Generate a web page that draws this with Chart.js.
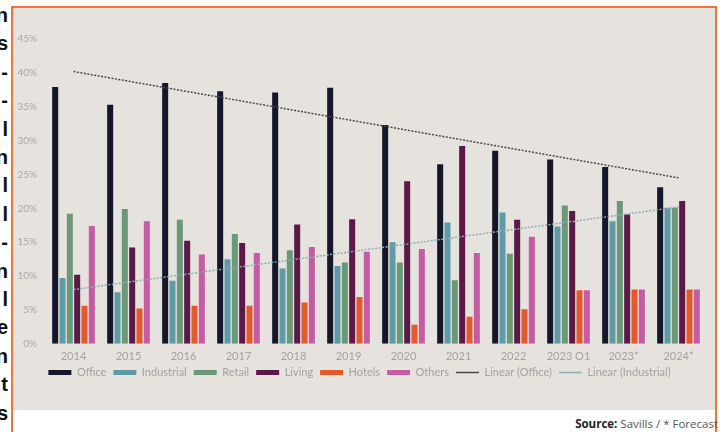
<!DOCTYPE html>
<html>
<head>
<meta charset="utf-8">
<script src="https://cdn.jsdelivr.net/npm/chart.js@4.4.1/dist/chart.umd.min.js"></script>
<style>
  html, body { margin: 0; padding: 0; background: #fff; width: 722px; height: 432px; overflow: hidden; font-family: Lato, sans-serif; }
  #edge { position: absolute; left: 0; top: 0; width: 10px; height: 432px; overflow: hidden; }
  #edge span { position: absolute; right: 2px; font: bold 20px "Liberation Sans", sans-serif; color: #111; line-height: 20px; }
  #frame { position: absolute; left: 11px; top: 6px; width: 702px; height: 430px; border: 2px solid #f0753d; border-bottom: none; }
  #panel { position: absolute; left: 0; top: 0; width: 702px; height: 402px; background: #e6e2de; }
  #source { position: absolute; right: 4px; top: 416px; font: 11.5px "Open Sans", sans-serif; color: #555; white-space: nowrap; }
  #source b { color: #222; }
</style>
</head>
<body>
<div id="edge"></div>
<div id="frame">
  <div id="panel"><canvas id="chart" width="702" height="402"></canvas></div>
</div>
<div id="source"><b>Source:</b> Savills / * Forecast</div>
<script>
// Share of investment volume by sector, per year
const categories = ['2014', '2015', '2016', '2017', '2018', '2019', '2020', '2021', '2022', '2023 Q1', '2023*', '2024*'];
const office     = [37.9, 35.3, 38.5, 37.3, 37.1, 37.8, 32.3, 26.5, 28.5, 27.2, 26.1, 23.1];
const industrial = [9.7, 7.6, 9.3, 12.5, 11.1, 11.5, 15.0, 17.9, 19.4, 17.3, 18.1, 20.1];
const retail     = [19.2, 19.9, 18.3, 16.2, 13.8, 12.0, 12.0, 9.4, 13.3, 20.4, 21.1, 20.1];
const living     = [10.2, 14.2, 15.2, 14.9, 17.6, 18.4, 24.0, 29.2, 18.3, 19.6, 19.1, 21.1];
const hotels     = [5.6, 5.2, 5.6, 5.6, 6.1, 6.9, 2.8, 4.0, 5.1, 7.9, 8.0, 8.0];
const others     = [17.4, 18.1, 13.2, 13.4, 14.3, 13.6, 14.0, 13.4, 15.8, 7.9, 8.0, 8.0];
const officeTrend     = [40.2, null, null, null, null, null, null, null, null, null, null, 24.5];
const industrialTrend = [8.0, null, null, null, null, null, null, null, null, null, null, 20.2];
const yTicks = [0, 5, 10, 15, 20, 25, 30, 35, 40, 45];

// cut-off text from the page beside the chart
const edgeChars = ['n', 's', '-', '-', 'l', 'n', 'l', 'l', '-', 'n', 'l', 'e', 'n', 't', 's'];
const edge = document.getElementById('edge');
edgeChars.forEach((c, i) => {
  const s = document.createElement('span');
  s.textContent = c;
  s.style.top = (5 + i * 28.4) + 'px';
  edge.appendChild(s);
});

function bar(label, data, color) {
  return { type: 'bar', label, data, backgroundColor: color, borderWidth: 0, order: 2,
           barPercentage: 0.82, categoryPercentage: 0.8 };
}
function trend(label, data, color) {
  return { type: 'line', label, data, borderColor: color, backgroundColor: color, borderWidth: 1.5,
           borderDash: [2, 1.5], pointRadius: 0, spanGaps: true, order: 1, tension: 0 };
}

const ctx = document.getElementById('chart').getContext('2d');
new Chart(ctx, {
  data: {
    labels: categories,
    datasets: [
      bar('Office', office, '#15162a'),
      bar('Industrial', industrial, '#5e9ba6'),
      bar('Retail', retail, '#6b9879'),
      bar('Living', living, '#5c1847'),
      bar('Hotels', hotels, '#e2592b'),
      bar('Others', others, '#c45ba3'),
      trend('Linear (Office)', officeTrend, '#4a4a4a'),
      trend('Linear (Industrial)', industrialTrend, '#8eaeb6')
    ]
  },
  options: {
    responsive: false,
    animation: false,
    layout: { padding: { top: 31, right: 9, bottom: 22, left: 0 } },
    scales: {
      x: {
        afterFit: (s) => { s.height = s.height - 9; },
        grid: { display: false, drawTicks: false },
        border: { display: false },
        ticks: { color: '#a3a3a3', font: { family: 'Lato', size: 11 }, padding: 6, maxRotation: 0 }
      },
      y: {
        min: 0, max: 45,
        afterFit: (s) => { s.width = 33; },
        afterBuildTicks: (s) => { s.ticks = yTicks.map(v => ({ value: v })); },
        grid: { display: false, drawTicks: false },
        border: { display: false },
        ticks: { color: '#a8a8a8', font: { family: 'Lato', size: 10 }, padding: 9,
                 callback: (v) => v + '%' }
      }
    },
    plugins: {
      tooltip: { enabled: false },
      legend: {
        position: 'bottom',
        labels: {
          usePointStyle: true,
          pointStyleWidth: 23,
          boxHeight: 5,
          padding: 7,
          color: '#a3a3a3',
          font: { family: 'Lato', size: 11 },
          sort: (a, b) => a.datasetIndex - b.datasetIndex,
          generateLabels: (chart) => {
            const items = Chart.defaults.plugins.legend.labels.generateLabels(chart);
            items.forEach(it => {
              const ds = chart.data.datasets[it.datasetIndex];
              if (ds.type === 'line') {
                it.pointStyle = 'line';
                it.fillStyle = 'transparent';
              } else {
                it.pointStyle = 'rect';
                it.lineWidth = 0;
              }
            });
            return items;
          }
        }
      }
    }
  }
});
</script>
</body>
</html>
